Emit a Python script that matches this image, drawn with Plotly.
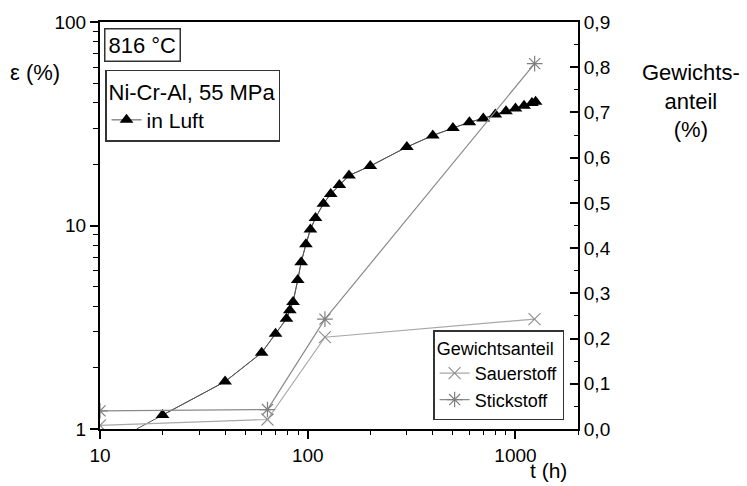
import plotly.graph_objects as go

# ---- data ----
t_luft = [20, 40, 60, 70, 79, 82, 85, 89.5, 93, 98, 103, 109, 119, 129, 142, 158,
          200, 300, 400, 500, 600, 700, 800, 900, 1000, 1100, 1200, 1250]
eps_luft = [1.17, 1.71, 2.37, 2.94, 3.48, 3.83, 4.21, 5.39, 6.60, 8.08, 9.56, 10.9,
            12.8, 14.3, 15.8, 17.6, 19.6, 24.3, 27.7, 30.1, 32.2, 33.6, 35.1, 36.4,
            37.6, 38.8, 40.0, 40.6]
t_curve_start = [15]
eps_curve_start = [1.0]

t_sauer = [10, 64, 121, 1235]
w_sauer = [0.008, 0.021, 0.203, 0.243]

t_stick = [10, 64, 121, 1237]
w_stick = [0.040, 0.043, 0.243, 0.808]

x_major = [10, 100, 1000]
x_minor = [m * d for d in (10, 100, 1000) for m in range(2, 10) if m * d <= 2000]
y_major = [1, 10, 100]
y_minor = [m * d for d in (1, 10) for m in range(2, 10)]
y2_major = [i / 10 for i in range(10)]
y2_minor = [i / 20 for i in range(1, 18, 2)]

FONT = "Liberation Sans, Arial, sans-serif"

fig = go.Figure()

# smooth curve through triangles
fig.add_trace(go.Scatter(
    x=t_curve_start + t_luft, y=eps_curve_start + eps_luft,
    mode="lines", line=dict(color="#555555", width=1),
    showlegend=False, hoverinfo="skip", yaxis="y"))
fig.add_trace(go.Scatter(
    x=t_luft, y=eps_luft, mode="lines+markers", name="in Luft",
    line=dict(color="#555555", width=1),
    marker=dict(symbol="triangle-up", size=12, color="black"),
    legend="legend", yaxis="y"))

fig.add_trace(go.Scatter(
    x=t_sauer, y=w_sauer, mode="lines+markers", name="Sauerstoff",
    line=dict(color="#a8a8a8", width=1.2),
    marker=dict(symbol="x-thin-open", size=12, color="#909090",
                line=dict(width=1.2, color="#909090")),
    legend="legend2", yaxis="y2"))
fig.add_trace(go.Scatter(
    x=t_stick, y=w_stick, mode="lines+markers", name="Stickstoff",
    line=dict(color="#8a8a8a", width=1.2),
    marker=dict(symbol="asterisk-open", size=13, color="#808080",
                line=dict(width=1.2, color="#808080")),
    legend="legend2", yaxis="y2"))

fig.update_layout(
    width=747, height=486,
    margin=dict(l=100, r=169, t=19, b=57),
    paper_bgcolor="white", plot_bgcolor="white",
    separators=",.",
    font=dict(family=FONT, size=19, color="black"),
    xaxis=dict(
        type="log", range=[1, 3.30103],
        tickvals=x_major, ticktext=["10", "100", "1000"],
        ticks="outside", ticklen=8, tickwidth=1.5, tickcolor="black",
        minor=dict(tickvals=x_minor, ticks="outside", ticklen=4,
                   tickwidth=1.2, tickcolor="black", showgrid=False),
        showline=True, linecolor="black", linewidth=2, mirror=True,
        showgrid=False, zeroline=False,
        tickfont=dict(size=19),
    ),
    yaxis=dict(
        type="log", range=[0, 2],
        tickvals=y_major, ticktext=["1", "10", "100"],
        ticks="outside", ticklen=8, tickwidth=1.5, tickcolor="black",
        minor=dict(tickvals=y_minor, ticks="outside", ticklen=5,
                   tickwidth=1.2, tickcolor="black", showgrid=False),
        showline=True, linecolor="black", linewidth=2,
        showgrid=False, zeroline=False,
        tickfont=dict(size=19),
    ),
    yaxis2=dict(
        overlaying="y", side="right", range=[0, 0.9],
        tickvals=y2_major, tickformat=".1f",
        ticks="inside", ticklen=8, tickwidth=1.5, tickcolor="black",
        minor=dict(tickvals=y2_minor, ticks="inside", ticklen=4,
                   tickwidth=1.2, tickcolor="black", showgrid=False),
        showline=True, linecolor="black", linewidth=2,
        showgrid=False, zeroline=False,
        tickfont=dict(size=19),
    ),
    legend=dict(
        x=0.0105, y=0.883, xanchor="left", yanchor="top",
        bordercolor="#333333", borderwidth=1.5, bgcolor="white",
        title=dict(text="Ni-Cr-Al, 55 MPa", font=dict(size=22)),
        font=dict(size=21), itemwidth=30, tracegroupgap=0,
    ),
    legend2=dict(
        x=0.971, y=0.022, xanchor="right", yanchor="bottom",
        bordercolor="#333333", borderwidth=1.5, bgcolor="white",
        title=dict(text="Gewichtsanteil", font=dict(size=18)),
        font=dict(size=18), itemwidth=30, tracegroupgap=0,
    ),
    annotations=[
        dict(text="816 °C", xref="paper", yref="paper", x=0.0084, y=0.985,
             xanchor="left", yanchor="top", showarrow=False,
             font=dict(size=22), bordercolor="#333333", borderwidth=1.5,
             borderpad=3, bgcolor="white"),
        dict(text="ε (%)", xref="paper", yref="paper", x=-0.136, y=0.876,
             xanchor="center", yanchor="middle", showarrow=False,
             font=dict(size=22)),
        dict(text="Gewichts-<br>anteil<br>(%)", xref="paper", yref="paper",
             x=1.236, y=0.805, xanchor="center", yanchor="middle",
             showarrow=False, font=dict(size=22), align="center"),
        dict(text="t (h)", xref="paper", yref="paper", x=0.939, y=-0.068,
             xanchor="center", yanchor="top", showarrow=False,
             font=dict(size=21)),
    ],
)

fig.write_html("out.html")
